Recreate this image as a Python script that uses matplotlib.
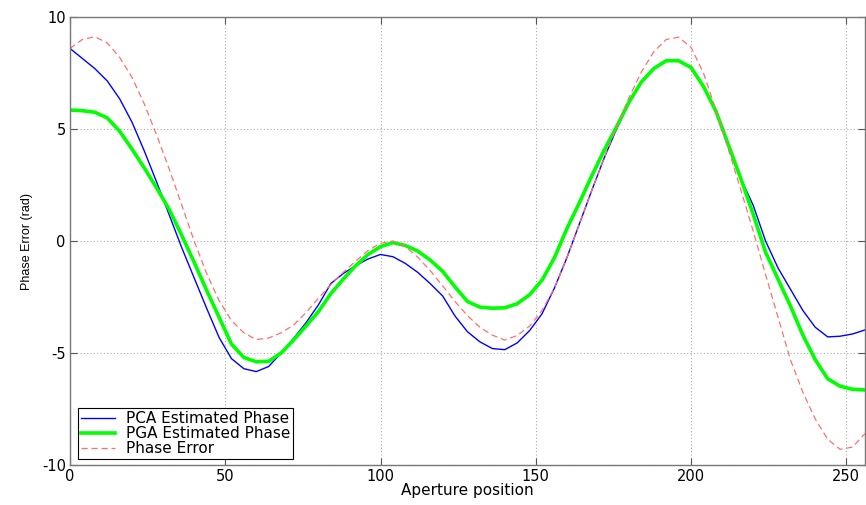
import matplotlib
matplotlib.use("Agg")
from matplotlib import pyplot as plt

plt.rcParams["font.family"] = ["DejaVu Sans"]
plt.rcParams["axes.unicode_minus"] = False

# aperture positions (samples every 4)
aperture = list(range(0, 257, 4))

pca_phase = [8.6, 8.15, 7.7, 7.15, 6.35, 5.3, 4.0, 2.6, 1.15, -0.3,
             -1.65, -3.0, -4.3, -5.25, -5.7, -5.83, -5.6, -5.0, -4.35, -3.65,
             -2.85, -1.9, -1.45, -1.1, -0.8, -0.6, -0.7, -1.0, -1.4, -1.9,
             -2.45, -3.35, -4.05, -4.5, -4.8, -4.85, -4.55, -4.0, -3.25, -2.1,
             -0.75, 0.75, 2.25, 3.7, 5.0, 6.15, 7.1, 7.7, 8.05, 8.05,
             7.75, 6.9, 5.8, 4.35, 2.8, 1.6, 0.0, -1.2, -2.15, -3.1,
             -3.85, -4.28, -4.25, -4.15, -3.97]

pga_phase = [5.85, 5.82, 5.75, 5.5, 4.9, 4.1, 3.25, 2.35, 1.4, 0.25,
             -0.95, -2.2, -3.4, -4.6, -5.2, -5.39, -5.37, -5.0, -4.42, -3.8,
             -3.15, -2.35, -1.7, -1.1, -0.6, -0.25, -0.07, -0.2, -0.45, -0.85,
             -1.35, -2.05, -2.7, -2.95, -3.0, -2.98, -2.8, -2.4, -1.75, -0.75,
             0.55, 1.7, 2.9, 4.05, 5.1, 6.2, 7.1, 7.7, 8.05, 8.05,
             7.75, 6.9, 5.8, 4.3, 2.8, 1.2, -0.5, -1.7, -2.9, -4.2,
             -5.3, -6.15, -6.48, -6.62, -6.65]

phase_error = [8.6, 9.0, 9.12, 8.85, 8.2, 7.3, 6.1, 4.7, 3.2, 1.6,
               0.0, -1.45, -2.65, -3.55, -4.1, -4.4, -4.33, -4.1, -3.75, -3.2,
               -2.55, -1.95, -1.4, -0.9, -0.42, -0.1, 0.0, -0.25, -0.72, -1.32,
               -2.0, -2.7, -3.33, -3.85, -4.2, -4.42, -4.22, -3.8, -3.1, -2.1,
               -0.75, 0.75, 2.25, 3.7, 5.1, 6.4, 7.55, 8.45, 9.0, 9.1,
               8.65, 7.5, 5.85, 4.1, 2.3, 0.45, -1.5, -3.4, -5.3, -6.75,
               -7.95, -8.85, -9.3, -9.2, -8.6]

fig = plt.figure(figsize=(8.66, 5.05), dpi=100)
ax = fig.add_axes([0.0808, 0.0792, 0.918, 0.887])

ax.plot(aperture, pca_phase, color="#0000ff", lw=1.0, label="PCA Estimated Phase")
ax.plot(aperture, pga_phase, color="#00ff00", lw=2.6, label="PGA Estimated Phase")
ax.plot(aperture, phase_error, color="#ff7070", lw=0.9, linestyle=(0, (5, 3)),
        label="Phase Error")

ax.set_xlim(0, 256)
ax.set_ylim(-10, 10)
ax.set_xticks([0, 50, 100, 150, 200, 250])
ax.set_yticks([-10, -5, 0, 5, 10])
ax.tick_params(direction="in", length=5, width=0.8, colors="#555555",
               labelcolor="black", labelsize=10.5, top=True, right=True, pad=3)
for s in ax.spines.values():
    s.set_color("#777777")
    s.set_linewidth(1.0)
ax.grid(True, color="#aaaaaa", linestyle=(0, (1, 2)), linewidth=0.8)

ax.set_xlabel("Aperture position", fontsize=11, labelpad=-1)
ax.set_ylabel("Phase Error (rad)", fontsize=9, family="Liberation Sans", labelpad=6)

leg = ax.legend(loc="lower left", bbox_to_anchor=(0.010, 0.013), borderaxespad=0,
                fancybox=False, edgecolor="black", framealpha=1, fontsize=11,
                handlelength=2.2, handletextpad=0.75, labelspacing=0.0,
                borderpad=0.2)
leg.get_frame().set_linewidth(0.8)

fig.savefig("out.png", dpi=100)
